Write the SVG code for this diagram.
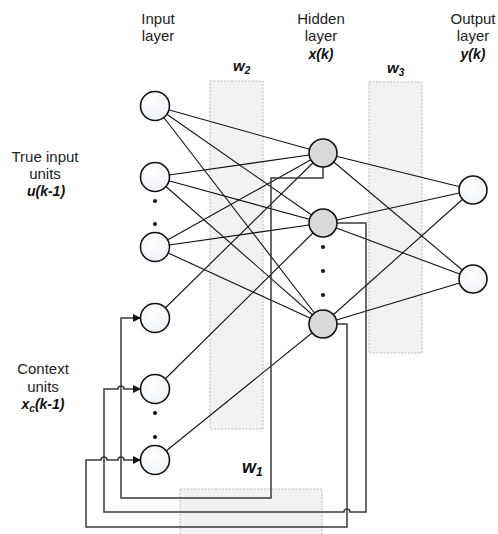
<svg xmlns="http://www.w3.org/2000/svg" width="498" height="534" viewBox="0 0 498 534">
<style>
.lbl{font-family:"Liberation Sans",Arial,sans-serif;font-size:15px;fill:#222;text-anchor:middle}
.var{font-family:"Liberation Sans",Arial,sans-serif;font-size:14px;font-weight:bold;font-style:italic;fill:#111;text-anchor:middle}
.wt{font-family:"Liberation Sans",Arial,sans-serif;font-weight:bold;font-style:italic;fill:#111}
.box{fill:#f2f2f2;stroke:#a8a8a8;stroke-width:0.8;stroke-dasharray:2 1.5}
.edge{stroke:#111;stroke-width:1.1;fill:none}
.fb{stroke:#3a3a3a;stroke-width:1.5;fill:none}
.in{fill:url(#gin);stroke:#111;stroke-width:1.6}
.hid{fill:#d9d9d9;stroke:#111;stroke-width:1.6}
.dot{fill:#111}
</style>
<defs>
<radialGradient id="gin" cx="0.4" cy="0.35" r="0.7">
<stop offset="0" stop-color="#ffffff"/>
<stop offset="1" stop-color="#eef2f8"/>
</radialGradient>
<marker id="arr" viewBox="0 0 8 8" refX="8" refY="4" markerWidth="8" markerHeight="8" markerUnits="userSpaceOnUse" orient="auto">
<path d="M0,0 L8,4 L0,8 z" fill="#111"/>
</marker>
</defs>
<rect width="498" height="534" fill="#ffffff"/>

<g id="weight-boxes">
<rect class="box" x="210" y="81" width="53" height="348"/>
<rect class="box" x="369" y="82" width="53" height="271"/>
<rect class="box" x="180" y="489" width="142" height="50"/>
</g>

<g id="labels">
<text class="lbl" x="158" y="24">Input</text>
<text class="lbl" x="158" y="41">layer</text>
<text class="lbl" x="321" y="24">Hidden</text>
<text class="lbl" x="321" y="41">layer</text>
<text class="var" x="321" y="59">x(k)</text>
<text class="lbl" x="473" y="24">Output</text>
<text class="lbl" x="473" y="41">layer</text>
<text class="var" x="473" y="59">y(k)</text>
<text class="lbl" x="45" y="162">True input</text>
<text class="lbl" x="45" y="179">units</text>
<text class="var" x="46" y="196">u(k-1)</text>
<text class="lbl" x="43" y="374">Context</text>
<text class="lbl" x="43" y="392">units</text>
<text class="var" x="43" y="409">x<tspan font-size="10" dy="3">c</tspan><tspan dy="-3">(k-1)</tspan></text>
<text class="wt" x="233" y="71" font-size="15">w<tspan font-size="10" dy="3">2</tspan></text>
<text class="wt" x="387" y="73" font-size="15">w<tspan font-size="10" dy="3">3</tspan></text>
<text class="wt" x="242" y="473" font-size="18">w<tspan font-size="12" dy="3">1</tspan></text>
</g>

<g id="connectors">
<line class="edge" x1="155" y1="106" x2="323" y2="153"/>
<line class="edge" x1="155" y1="106" x2="323" y2="223"/>
<line class="edge" x1="155" y1="106" x2="323" y2="324"/>
<line class="edge" x1="155" y1="177" x2="323" y2="153"/>
<line class="edge" x1="155" y1="177" x2="323" y2="223"/>
<line class="edge" x1="155" y1="177" x2="323" y2="324"/>
<line class="edge" x1="155" y1="247" x2="323" y2="153"/>
<line class="edge" x1="155" y1="247" x2="323" y2="223"/>
<line class="edge" x1="155" y1="247" x2="323" y2="324"/>
<line class="edge" x1="155" y1="318" x2="323" y2="153"/>
<line class="edge" x1="155" y1="389" x2="323" y2="223"/>
<line class="edge" x1="155" y1="460" x2="323" y2="324"/>
<line class="edge" x1="323" y1="153" x2="473" y2="190"/>
<line class="edge" x1="323" y1="153" x2="473" y2="279"/>
<line class="edge" x1="323" y1="223" x2="473" y2="190"/>
<line class="edge" x1="323" y1="223" x2="473" y2="279"/>
<line class="edge" x1="323" y1="324" x2="473" y2="190"/>
<line class="edge" x1="323" y1="324" x2="473" y2="279"/>
<path class="fb" d="M323,153 V178 H271 V498 H121 V318 H141" marker-end="url(#arr)"/>
<path class="fb" d="M323,223 H366 V512 H350 A3,3 0 0 0 344,512 H104 V389 H118 A3,3 0 0 1 124,389 H141" marker-end="url(#arr)"/>
<path class="fb" d="M323,324 H347 V527 H86 V460 H101 A3,3 0 0 1 107,460 H118 A3,3 0 0 1 124,460 H141" marker-end="url(#arr)"/>
</g>

<g id="input-nodes">
<circle id="in1" class="in" cx="155" cy="106" r="14.5"/>
<circle id="in2" class="in" cx="155" cy="177" r="14.5"/>
<circle class="dot" cx="155" cy="201" r="2"/>
<circle class="dot" cx="155" cy="224" r="2"/>
<circle id="in3" class="in" cx="155" cy="247" r="14.5"/>
<circle id="ctx1" class="in" cx="155" cy="318" r="14.5"/>
<circle id="ctx2" class="in" cx="155" cy="389" r="14.5"/>
<circle class="dot" cx="155" cy="413" r="2"/>
<circle class="dot" cx="155" cy="437" r="2"/>
<circle id="ctx3" class="in" cx="155" cy="460" r="14.5"/>
</g>

<g id="hidden-nodes">
<circle id="h1" class="hid" cx="323" cy="153" r="14"/>
<circle id="h2" class="hid" cx="323" cy="223" r="14"/>
<circle class="dot" cx="323" cy="247" r="2"/>
<circle class="dot" cx="323" cy="271" r="2"/>
<circle class="dot" cx="323" cy="295" r="2"/>
<circle id="h3" class="hid" cx="323" cy="324" r="14"/>
</g>

<g id="output-nodes">
<circle id="o1" class="in" cx="473" cy="190" r="14"/>
<circle id="o2" class="in" cx="473" cy="279" r="14"/>
</g>
</svg>
